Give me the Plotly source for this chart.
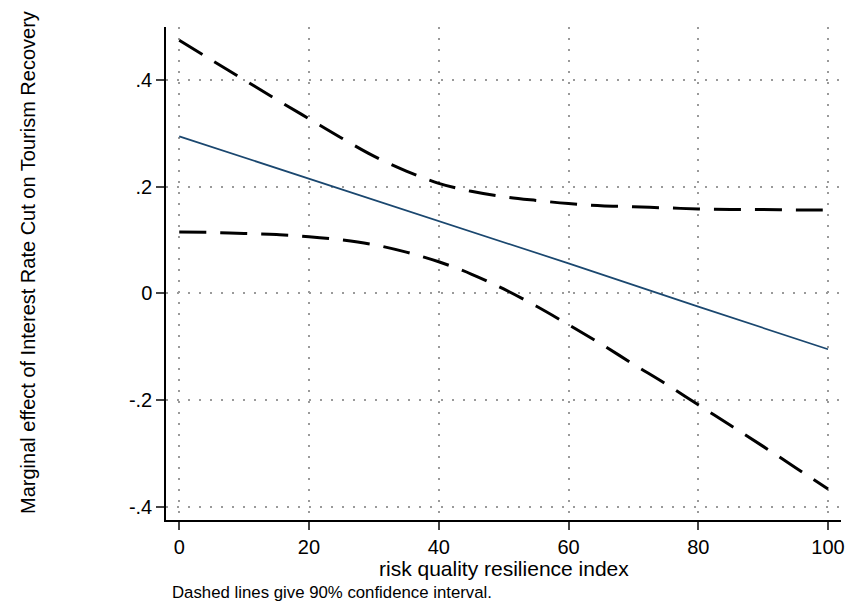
import plotly.graph_objects as go

# Values of the moderator (risk quality resilience index)
x_vals = [0, 5, 10, 15, 20, 25, 30, 35, 40, 45, 50, 55, 60, 65, 70, 75, 80, 85, 90, 95, 100]

# Upper and lower bounds of the 90% confidence interval
upper_ci = [0.474, 0.437, 0.400, 0.363, 0.327, 0.291, 0.257, 0.229, 0.206, 0.191, 0.181,
            0.174, 0.168, 0.164, 0.162, 0.160, 0.158, 0.157, 0.157, 0.156, 0.156]
lower_ci = [0.115, 0.114, 0.112, 0.110, 0.106, 0.100, 0.091, 0.077, 0.059, 0.036, 0.008,
            -0.024, -0.059, -0.095, -0.133, -0.170, -0.209, -0.248, -0.287, -0.327, -0.367]

# Point estimate of the marginal effect
me_x = [0, 20, 40, 60, 80, 100]
me_y = [0.294, 0.215, 0.135, 0.056, -0.025, -0.105]

# Axis ticks
x_ticks = [0, 20, 40, 60, 80, 100]
y_ticks = [-0.4, -0.2, 0, 0.2, 0.4]
y_tick_text = ["-.4", "-.2", "0", ".2", ".4"]

FONT = "Liberation Sans, Arial, sans-serif"
DASH = "27px,14px"

fig = go.Figure()
fig.add_trace(go.Scatter(x=x_vals, y=upper_ci, mode="lines",
                         line=dict(color="black", width=3, dash=DASH, shape="spline"),
                         showlegend=False, hoverinfo="skip"))
fig.add_trace(go.Scatter(x=x_vals, y=lower_ci, mode="lines",
                         line=dict(color="black", width=3, dash=DASH, shape="spline"),
                         showlegend=False, hoverinfo="skip"))
fig.add_trace(go.Scatter(x=me_x, y=me_y, mode="lines",
                         line=dict(color="#1a476f", width=1.7),
                         showlegend=False))

grid = dict(showgrid=True, gridcolor="#9a9a9a", gridwidth=1.5, griddash="1.5px,9.5px")

fig.update_xaxes(range=[-2.04, 102.0], tickvals=x_ticks, ticks="outside", ticklen=8,
                 tickwidth=1.5, tickcolor="#444444", showline=True, linecolor="black",
                 linewidth=1.5, zeroline=False,
                 tickfont=dict(family=FONT, size=20, color="black"), **grid)
fig.update_yaxes(range=[-0.425, 0.499], tickvals=y_ticks, ticktext=y_tick_text,
                 ticks="outside", ticklen=8, tickwidth=1.5, tickcolor="#444444",
                 showline=True, linecolor="black", linewidth=1.5, zeroline=False,
                 tickfont=dict(family=FONT, size=20, color="black"), **grid)

fig.add_annotation(text="Marginal effect of Interest Rate Cut on Tourism Recovery",
                   xref="paper", yref="paper", x=-0.2047, y=0.523, textangle=-90,
                   xanchor="center", yanchor="middle", showarrow=False,
                   font=dict(family=FONT, size=20, color="black"))
fig.add_annotation(text="risk quality resilience index",
                   xref="paper", yref="paper", x=0.5, y=-0.0985,
                   xanchor="center", yanchor="middle", showarrow=False,
                   font=dict(family=FONT, size=21, color="black"))
fig.add_annotation(text="Dashed lines give 90% confidence interval.",
                   xref="paper", yref="paper", x=0.0059, y=-0.148,
                   xanchor="left", yanchor="middle", showarrow=False,
                   font=dict(family=FONT, size=16.8, color="black"))

fig.update_layout(width=851, height=604, margin=dict(l=166, r=6, t=27, b=84),
                  plot_bgcolor="white", paper_bgcolor="white",
                  font=dict(family=FONT, color="black"))

fig.write_html("out.html")
